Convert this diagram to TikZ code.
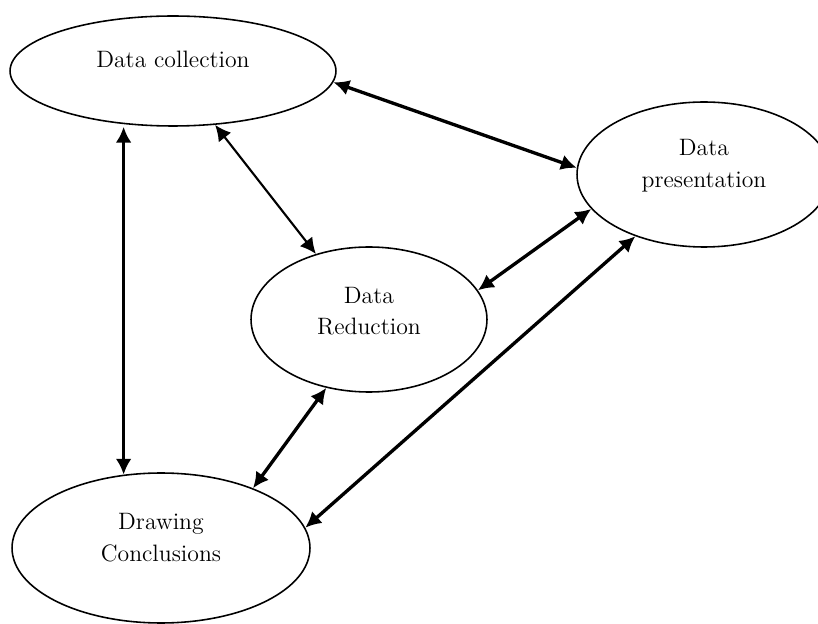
\documentclass[tikz,border=0pt]{standalone}
\usepackage{amsmath}
\usepackage{tikz}
\usetikzlibrary{shapes.geometric,arrows.meta}

\begin{document}
\begin{tikzpicture}[x=0.02cm,y=-0.02cm,
	stage/.style={draw,ellipse,line width=0.9pt,inner sep=0pt},
	caption/.style={align=center,font=\fontsize{13.5}{18}\selectfont},
	link/.style={{Latex[length=9pt,width=9pt]}-{Latex[length=9pt,width=9pt]},line width=1.9pt},
	thinlink/.style={link,line width=1.2pt}]
	\useasboundingbox (0,0) rectangle (818,624);
	\clip (0,0) rectangle (818,624);

	\node[stage,minimum width=6.52cm,minimum height=2.2cm,
		label={[caption,yshift=0.24cm]center:Data collection}] (collect) at (173,71) {};
	\node[stage,minimum width=5.08cm,minimum height=2.9cm,
		label={[caption,yshift=0.17cm]center:Data\\presentation}] (present) at (704,174.5) {};
	\node[stage,minimum width=4.72cm,minimum height=2.9cm,
		label={[caption,yshift=0.17cm]center:Data\\Reduction}] (reduce) at (369,319.5) {};
	\node[stage,minimum width=5.96cm,minimum height=3cm,
		label={[caption,yshift=0.21cm]center:Drawing\\Conclusions}] (conclude) at (161,548) {};

	\path
	(collect.-4) edge[link] (present.177)
	(collect.-52) edge[thinlink] (reduce.129)
	(conclude.117) edge[link] (conclude.117 |- collect.south)
	(reduce.15) edge[link] (present.-163)
	(reduce.-122) edge[link] (conclude.33)
	(present.-138) edge[link] (conclude.8);
\end{tikzpicture}
\end{document}
